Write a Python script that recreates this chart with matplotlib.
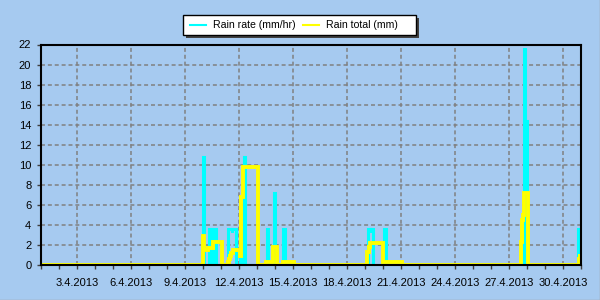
import matplotlib
matplotlib.use("Agg")
import matplotlib.pyplot as plt
import matplotlib.dates as mdates
from matplotlib.patches import Rectangle
from matplotlib.lines import Line2D
import pandas as pd

# ---- data (days since 1.4.2013 00:00, values) ----
start_date = "2013-04-01"
end_days = 30

rate_t = [0, 8.98, 9.04, 9.35, 9.42, 9.63, 9.70, 10.38, 10.60, 10.63, 10.85,
          11.08, 11.15, 11.27, 11.35, 12.55, 12.62, 12.93, 13.00, 13.47, 13.54,
          18.14, 18.27, 18.30, 18.42, 19.08, 19.16, 26.81, 26.88, 26.98,
          29.85, 30.0]
rate_v = [0, 10.8, 0, 3.6, 0, 3.6, 0, 3.6, 3.3, 3.6, 0,
          3.6, 0, 10.8, 0, 3.6, 0, 7.2, 0, 3.6, 0,
          3.6, 3.3, 3.6, 0, 3.6, 0, 21.6, 14.4, 0,
          3.6, 3.6]

total_t = [0, 8.98, 9.06, 9.28, 9.56, 10.05, 10.38, 10.45, 10.50, 10.56, 10.64,
           11.05, 11.12, 11.20, 12.05, 12.50, 12.89, 13.09, 13.44, 14.06,
           18.10, 18.20, 18.30, 19.00, 20.05, 26.67, 26.72, 26.78, 26.86, 27.08,
           29.88, 29.94, 30.0]
total_v = [0, 2.9, 1.5, 1.7, 2.3, 0, 0.3, 0.6, 0.9, 1.2, 1.5,
           0.9, 6.8, 9.8, 0, 0.3, 1.8, 0, 0.3, 0,
           1.3, 1.8, 2.2, 0.3, 0, 2.3, 4.5, 5.0, 7.2, 0,
           0.6, 0.9, 0.9]

y_ticks = list(range(0, 23, 2))
label_days = list(range(3, 31, 3))
series_names = ["Rain rate (mm/hr)", "Rain total (mm)"]

BG = "#a6caf0"
CYAN = "#00ffff"
YELLOW = "#ffff00"
GRID = "#808080"

base = pd.Timestamp(start_date)
rate_x = [base + pd.Timedelta(days=t) for t in rate_t]
total_x = [base + pd.Timedelta(days=t) for t in total_t]

plt.rcParams['font.family'] = ['Liberation Sans', 'DejaVu Sans']

fig = plt.figure(figsize=(6, 3), dpi=100, facecolor=BG)
ax = fig.add_axes([41 / 600, 35 / 300, 540 / 600, 220.5 / 300])
ax.set_facecolor(BG)

ax.plot(rate_x, rate_v, drawstyle="steps-post", color=CYAN, lw=2.2,
        solid_joinstyle="miter", solid_capstyle="butt", zorder=3)
ax.plot(total_x, total_v, drawstyle="steps-post", color=YELLOW, lw=2.8,
        solid_joinstyle="miter", solid_capstyle="butt", zorder=4)

ax.set_xlim(base, base + pd.Timedelta(days=end_days))
ax.set_ylim(0, 22)
ax.set_yticks(y_ticks)

ax.xaxis.set_major_locator(mdates.DayLocator(bymonthday=label_days))
ax.xaxis.set_minor_locator(mdates.DayLocator())
ax.xaxis.set_major_formatter(
    plt.FuncFormatter(lambda v, p: (lambda d: f"{d.day}.{d.month}.{d.year}")(mdates.num2date(v))))

ax.grid(True, which="major", color=GRID, lw=1.1, linestyle=(0, (2.6, 1.9)))
ax.set_axisbelow(True)

ax.tick_params(axis="both", which="major", direction="out", length=3,
               width=1, color="#404040", labelsize=8, labelcolor="black")
ax.tick_params(axis="x", which="major", pad=6)
ax.tick_params(axis="y", which="major", pad=4)
ax.tick_params(axis="x", which="minor", direction="out", length=3, width=1,
               color="#404040")

for s in ax.spines.values():
    s.set_color("black")
    s.set_linewidth(1.5)
    s.set_zorder(5)

# ---- legend (drawn in figure pixel coordinates) ----
def fx(px):
    return px / 600

def fy(py):
    return (300 - py) / 300

shadow = Rectangle((fx(186), fy(38)), fx(233), 20 / 300, transform=fig.transFigure,
                   facecolor="#404040", edgecolor="none", zorder=10)
box = Rectangle((fx(183), fy(35)), fx(233), 20 / 300, transform=fig.transFigure,
                facecolor="white", edgecolor="black", lw=1, zorder=11)
fig.add_artist(shadow)
fig.add_artist(box)
fig.add_artist(Line2D([fx(190), fx(206)], [fy(25), fy(25)], transform=fig.transFigure,
                      color=CYAN, lw=1.5, zorder=12))
fig.add_artist(Line2D([fx(303), fx(319)], [fy(25), fy(25)], transform=fig.transFigure,
                      color=YELLOW, lw=1.5, zorder=12))
fig.text(fx(213), fy(25), series_names[0], fontsize=7.6, va="center", ha="left", zorder=12)
fig.text(fx(326), fy(25), series_names[1], fontsize=7.6, va="center", ha="left", zorder=12)

# grey outer border on right and bottom
fig.add_artist(Line2D([fx(599.5), fx(599.5)], [0, 1], transform=fig.transFigure,
                      color="#a0a0a0", lw=1))
fig.add_artist(Line2D([0, 1], [fy(299.5), fy(299.5)], transform=fig.transFigure,
                      color="#a0a0a0", lw=1))

fig.savefig("out.png", dpi=100, facecolor=BG)
